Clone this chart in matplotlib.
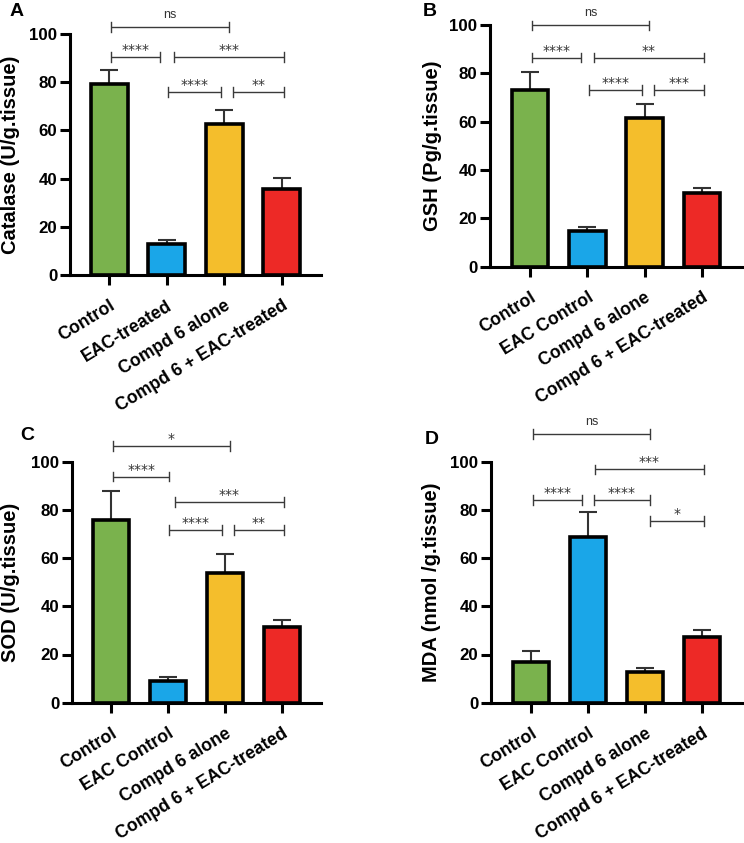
import matplotlib
matplotlib.use("Agg")
import matplotlib.pyplot as plt

plt.rcParams['font.family'] = ['Liberation Sans', 'DejaVu Sans']

# ---------------- data ----------------
labels_A = ["Control", "EAC-treated", "Compd 6 alone", "Compd 6 + EAC-treated"]
labels_BCD = ["Control", "EAC Control", "Compd 6 alone", "Compd 6 + EAC-treated"]

catalase_mean = [79.3, 12.7, 62.7, 35.7]
catalase_err = [5.8, 1.9, 5.6, 4.5]

gsh_mean = [73.0, 14.9, 61.4, 30.6]
gsh_err = [7.6, 1.7, 5.7, 2.0]

sod_mean = [75.8, 9.0, 53.9, 31.5]
sod_err = [11.9, 1.7, 7.9, 2.8]

mda_mean = [17.0, 68.6, 12.9, 27.4]
mda_err = [4.3, 10.7, 1.5, 2.8]

# significance brackets: (group i, group j, height, label)
sig_A = [(0, 2, 103.0, "ns"), (0, 1, 90.5, "****"), (1, 3, 90.5, "***"),
         (1, 2, 76.0, "****"), (2, 3, 76.0, "**")]
sig_B = [(0, 2, 99.7, "ns"), (0, 1, 86.4, "****"), (1, 3, 86.4, "**"),
         (1, 2, 73.0, "****"), (2, 3, 73.0, "***")]
sig_C = [(0, 2, 106.5, "*"), (0, 1, 93.8, "****"), (1, 3, 83.4, "***"),
         (1, 2, 71.7, "****"), (2, 3, 71.7, "**")]
sig_D = [(0, 2, 111.5, "ns"), (1, 3, 96.8, "***"), (0, 1, 84.0, "****"),
         (1, 2, 84.0, "****"), (2, 3, 75.3, "*")]

ylabels = ["Catalase (U/g.tissue)", "GSH (Pg/g.tissue)",
           "SOD (U/g.tissue)", "MDA (nmol /g.tissue)"]
panel_letters = ["A", "B", "C", "D"]
yticks = [0, 20, 40, 60, 80, 100]

colors = ["#7AB24D", "#1AA6E8", "#F4BE2C", "#ED2926"]

# ---------------- figure ----------------
W, H = 744, 843
fig = plt.figure(figsize=(W / 100, H / 100), dpi=100)


def px_axes(left, top_y, right, bottom_y):
    return fig.add_axes([left / W, 1 - bottom_y / H, (right - left) / W,
                         (bottom_y - top_y) / H])


axes_px = [
    (70, 34, 321, 275),
    (490, 24.7, 742, 266.7),
    (72, 461.7, 321, 702.7),
    (491, 461.7, 742, 702.7),
]
xlims = [(-0.68, 3.68), (-0.70, 3.70), (-0.68, 3.68), (-0.70, 3.70)]
label_x = [-0.20, -0.19, -0.21, -0.20]
letter_pos = [(17, 12), (430, 12), (27, 435), (432, 440)]

datasets = [
    (labels_A, catalase_mean, catalase_err, sig_A),
    (labels_BCD, gsh_mean, gsh_err, sig_B),
    (labels_BCD, sod_mean, sod_err, sig_C),
    (labels_BCD, mda_mean, mda_err, sig_D),
]

attach = [0.04, 1.02, 2.08, 3.03]


def draw_bracket(ax, i, j, h, text, sigs):
    x0, x1 = attach[i], attach[j]
    # shrink where another bracket at the same level shares an endpoint
    for (a, b, hh, _) in sigs:
        if hh == h and (a, b) != (i, j):
            if b == i:
                x0 += 0.08
            if a == j:
                x1 -= 0.13
    if i == 1 and j == 3:
        x0 = 1.12
    lc = "#3a3a3a"
    ax.plot([x0, x1], [h, h], color=lc, lw=1.0, clip_on=False,
            solid_capstyle="butt")
    for x in (x0, x1):
        ax.plot([x, x], [h - 2.0, h + 2.0], color=lc, lw=1.0, clip_on=False)
    if "*" in text:
        ax.annotate(text, xy=((x0 + x1) / 2, h), xytext=(0, 2.2),
                    textcoords="offset points", ha="center", va="baseline",
                    fontsize=10, color="#333333", family="DejaVu Sans",
                    annotation_clip=False)
    else:
        ax.annotate(text, xy=((x0 + x1) / 2, h), xytext=(0, 6.5),
                    textcoords="offset points", ha="center", va="baseline",
                    fontsize=9, color="#333333", annotation_clip=False)


for k, (labels, mean, err, sigs) in enumerate(datasets):
    ax = px_axes(*axes_px[k])
    x = list(range(len(labels)))
    ax.bar(x, mean, width=0.64, color=colors, edgecolor="black",
           linewidth=2.6, zorder=3)
    ax.errorbar(x, mean, yerr=[[0] * len(err), err], fmt="none",
                ecolor="#333333", elinewidth=1.5, capsize=6.5, capthick=1.5,
                zorder=2)
    ax.set_xlim(*xlims[k])
    ax.set_ylim(0, 100)
    ax.set_yticks(yticks)
    ax.set_xticks(x)
    ax.set_xticklabels(labels, rotation=31.5, ha="right", va="top",
                       rotation_mode="anchor", fontsize=12.7,
                       fontweight="bold")
    for t in ax.get_yticklabels():
        t.set_fontsize(12.2)
        t.set_fontweight("bold")
    ax.tick_params(axis="y", direction="out", length=7.5, width=2.2, pad=1.5)
    ax.tick_params(axis="x", direction="out", length=7, width=2.2, pad=9)
    for s in ("top", "right"):
        ax.spines[s].set_visible(False)
    for s in ("left", "bottom"):
        ax.spines[s].set_linewidth(2.2)
    ax.set_ylabel(ylabels[k], fontsize=14.5, fontweight="bold")
    ax.yaxis.set_label_coords(label_x[k], 0.5)
    for (i, j, h, t) in sigs:
        draw_bracket(ax, i, j, h, t, sigs)
    lx, ly = letter_pos[k]
    fig.text(lx / W, 1 - ly / H, panel_letters[k], fontsize=14,
             fontweight="bold", ha="center", va="center")

fig.savefig("out.png", dpi=100)
